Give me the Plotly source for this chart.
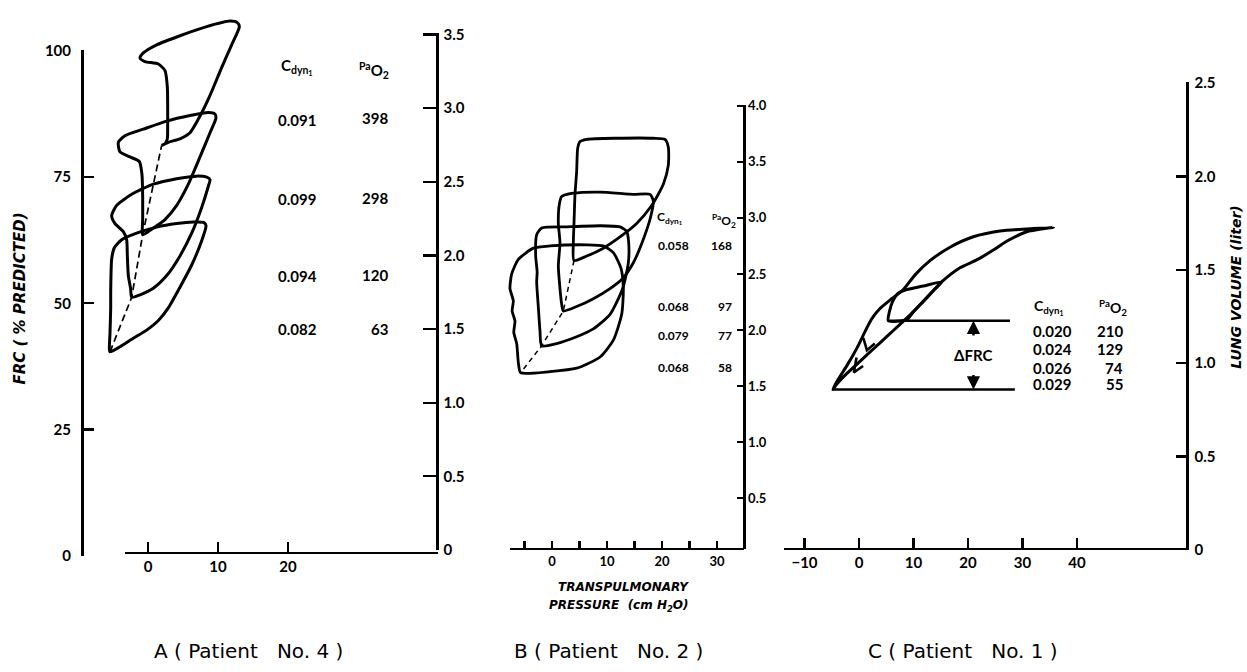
import plotly.graph_objects as go

W, H = 1247, 672

# ---------------- DATA ----------------
# Panel A (Patient No. 4): transpulmonary pressure (cm H2O) vs FRC (% predicted)
A1_X = [1.95, 2.90, 4.57, 6.0, 7.43, 8.86, 10.52, 11.95, 13.05, 12.76, 11.71, 8.38, 4.57, 1.24, -0.67, -1.14, -0.43, 1.48, 2.43, 2.76, 2.81, 2.81, 2.76, 2.43, 1.95]
A1_Y = [81.3, 81.9, 82.6, 83.8, 87.1, 91.2, 96.7, 101.2, 104.8, 105.6, 105.9, 104.8, 103.0, 101.2, 99.6, 98.6, 97.9, 97.4, 96.1, 92.9, 89.0, 85.1, 82.6, 81.6, 81.3]
A2_X = [-0.76, 0.52, 2.43, 4.10, 5.76, 7.43, 8.86, 9.71, 9.57, 8.62, 6.0, 2.67, -0.67, -3.29, -4.24, -4.0, -2.57, -1.24, -0.86, -0.76, -0.76, -0.76]
A2_Y = [63.6, 64.7, 66.6, 69.4, 73.6, 79.0, 83.8, 86.7, 87.5, 87.8, 87.2, 86.1, 84.5, 83.2, 81.9, 80.0, 79.0, 78.1, 75.5, 71.0, 66.5, 63.6]
A3_X = [-2.33, -1.14, 0.76, 2.67, 4.57, 6.24, 7.67, 8.62, 8.86, 8.38, 6.95, 4.10, 0.76, -2.33, -4.48, -5.19, -4.71, -3.52, -3.05, -2.95, -2.81, -2.48, -2.33]
A3_Y = [51.2, 51.7, 53.0, 55.5, 59.4, 63.9, 69.0, 73.2, 74.5, 75.0, 75.2, 74.7, 73.6, 71.6, 69.4, 67.4, 65.8, 64.2, 62.6, 59.4, 55.5, 52.9, 51.2]
A4_X = [-5.43, -4.0, -2.1, -0.19, 1.48, 2.9, 4.57, 6.24, 7.67, 8.29, 8.0, 6.48, 4.10, 1.24, -1.62, -3.76, -4.81, -5.19, -5.29, -5.33, -5.33, -5.43, -5.52, -5.43]
A4_Y = [40.4, 41.4, 43.1, 44.7, 46.6, 49.1, 53.2, 57.6, 62.4, 65.4, 66.0, 66.1, 65.8, 65.1, 63.9, 62.6, 61.0, 58.8, 55.5, 52.3, 49.1, 44.0, 41.0, 40.4]
A_DASH_X = [-5.43, -2.33, -0.76, 1.95]
A_DASH_Y = [40.4, 51.2, 63.6, 81.3]
A_CDYN = ["0.091", "0.099", "0.094", "0.082"]
A_PAO2 = ["398", "298", "120", "63"]
A_XTICKS = [0, 10, 20]
A_LTICKS = [0, 25, 50, 75, 100]
A_RTICKS = [0, 0.5, 1.0, 1.5, 2.0, 2.5, 3.0, 3.5]
A_RTEXT = ["0", "0.5", "1.0", "1.5", "2.0", "2.5", "3.0", "3.5"]

# Panel B (Patient No. 2): pressure vs lung volume (liter)
B1_X = [4.0, 6.30, 9.33, 12.36, 15.39, 18.12, 20.24, 21.15, 21.15, 20.55, 18.42, 11.76, 6.30, 5.09, 4.67, 4.48, 4.18, 4.0, 3.88, 4.0]
B1_Y = [2.62, 2.66, 2.73, 2.83, 2.95, 3.11, 3.30, 3.47, 3.63, 3.70, 3.71, 3.71, 3.70, 3.68, 3.62, 3.41, 3.21, 2.95, 2.78, 2.62]
B2_X = [2.06, 4.48, 7.52, 10.55, 12.85, 14.79, 16.61, 17.94, 18.42, 17.82, 14.79, 8.73, 3.88, 1.76, 1.33, 1.15, 1.45, 1.15, 1.45, 1.76, 2.06]
B2_Y = [2.17, 2.21, 2.28, 2.37, 2.46, 2.60, 2.81, 3.01, 3.15, 3.21, 3.21, 3.23, 3.22, 3.19, 3.12, 2.95, 2.78, 2.57, 2.37, 2.23, 2.17]
B3_X = [-1.88, 0.85, 4.48, 7.52, 10.55, 12.85, 13.88, 13.94, 13.58, 12.36, 8.73, 2.67, -1.88, -2.79, -2.97, -2.70, -2.79, -2.48, -2.18, -1.88]
B3_Y = [1.86, 1.88, 1.94, 2.01, 2.14, 2.37, 2.60, 2.78, 2.88, 2.92, 2.93, 2.92, 2.91, 2.85, 2.66, 2.52, 2.43, 2.20, 1.99, 1.86]
B4_X = [-5.70, -0.36, 4.48, 8.73, 11.15, 12.67, 12.97, 12.55, 11.15, 9.33, 6.30, -0.36, -3.39, -6.12, -7.33, -7.64, -7.03, -7.25, -6.73, -6.95, -6.42, -6.12, -5.70]
B4_Y = [1.62, 1.63, 1.66, 1.76, 1.91, 2.14, 2.37, 2.55, 2.69, 2.75, 2.76, 2.75, 2.73, 2.63, 2.50, 2.37, 2.26, 2.17, 2.08, 1.98, 1.88, 1.71, 1.62]
B_DASH_X = [4.0, 2.06, -1.88, -5.70]
B_DASH_Y = [2.62, 2.17, 1.86, 1.62]
B_CDYN = ["0.058", "0.068", "0.079", "0.068"]
B_PAO2 = ["168", "97", "77", "58"]
B_XTICKS = [-5, 0, 5, 10, 15, 20, 25, 30]
B_XTEXT = [" ", "0", " ", "10", " ", "20", " ", "30"]
B_RTICKS = [0.5, 1.0, 1.5, 2.0, 2.5, 3.0, 3.5, 4.0]
B_RTEXT = ["0.5", "1.0", "1.5", "2.0", "2.5", "3.0", "3.5", "4.0"]

# Panel C (Patient No. 1)
C1_X = [-4.83, -3.79, -2.14, -0.31, 1.28, 2.32, 3.85, 5.99, 8.13, 10.28, 13.03, 16.70, 20.98, 25.87, 30.76, 35.66,
        34.43, 30.76, 27.09, 24.65, 21.59, 18.53, 15.17, 12.42, 9.97, 7.52, 5.08, 2.63, 0.18, -2.26, -4.10, -4.83]
C1_Y = [0.859, 0.915, 0.991, 1.085, 1.180, 1.237, 1.293, 1.345, 1.394, 1.473, 1.549, 1.621, 1.677, 1.708, 1.719, 1.728,
        1.723, 1.704, 1.653, 1.606, 1.553, 1.511, 1.435, 1.350, 1.275, 1.208, 1.142, 1.076, 1.010, 0.944, 0.887, 0.859]
C2_X = [5.38, 5.57, 6.18, 7.22, 8.75, 11.80, 15.17, 13.64, 11.80, 9.97, 8.75, 5.38]
C2_Y = [1.227, 1.275, 1.331, 1.375, 1.394, 1.413, 1.435, 1.388, 1.331, 1.275, 1.233, 1.227]
C_UPPER_X = [5.38, 27.7]
C_UPPER_Y = [1.227, 1.227]
C_LOWER_X = [-4.83, 28.6]
C_LOWER_Y = [0.859, 0.859]
C_CHEV1_X = [0.80, 1.45, 2.90]
C_CHEV1_Y = [1.135, 1.070, 1.105]
C_CHEV2_X = [-0.45, -0.95, 0.75]
C_CHEV2_Y = [1.030, 0.950, 0.985]
C_ARROW_X = 21.0
C_ARROW_UP = [1.095, 1.227]
C_ARROW_DN = [0.991, 0.859]
C_CDYN = ["0.020", "0.024", "0.026", "0.029"]
C_PAO2 = ["210", "129", "74", "55"]
C_XTICKS = [-10, 0, 10, 20, 30, 40]
C_RTICKS = [0, 0.5, 1.0, 1.5, 2.0, 2.5]
C_RTEXT = ["0", "0.5", "1.0", "1.5", "2.0", "2.5"]

NB = "\u00a0"
CAPTIONS = ["A" + NB + "(" + NB + "Patient" + NB * 3 + "No." + NB + "4" + NB + ")",
            "B" + NB + "(" + NB + "Patient" + NB * 3 + "No." + NB + "2" + NB + ")",
            "C" + NB + "(" + NB + "Patient" + NB * 3 + "No." + NB + "1" + NB + ")"]

# ---------------- LAYOUT HELPERS ----------------
def px2x(p):
    return p / W

def px2y(p):
    return 1 - p / H

def xr(p0, p1, zero, ppu):
    return [(p0 - zero) / ppu, (p1 - zero) / ppu]

def yr(pb, pt, zero, ppu):
    return [(zero - pb) / ppu, (zero - pt) / ppu]

# pixel calibrations: (pixel of value 0, pixels per unit)
A_X0, A_XPU = 148, 7.0
A_Y0, A_YPU = 561, 5.18
A_R0, A_RPU = 555, 151.1
B_X0, B_XPU = 552, 5.5
B_Y0, B_YPU = 559.6, 115.1
C_X0, C_XPU = 859, 5.45
C_Y0, C_YPU = 555, 191.6

FONT = "Lato, 'Open Sans', sans-serif"
TFONT = "'DejaVu Sans', sans-serif"

def tf(size):
    return dict(family=FONT, size=size, color="black", weight="bold")

VIS = dict(showline=True, linecolor="black", linewidth=2.5, ticks="inside", tickcolor="black",
           tickwidth=2.2, showgrid=False, zeroline=False, anchor="free", fixedrange=True)
HID = dict(visible=False, fixedrange=True, showgrid=False, zeroline=False)

fig = go.Figure()

def loop(x, y, xa, ya, width=3.0, dash=None, shape="spline"):
    fig.add_trace(go.Scatter(x=x, y=y, xaxis=xa, yaxis=ya, mode="lines",
                             line=dict(color="black", width=width, dash=dash, shape=shape, smoothing=0.6),
                             showlegend=False, hoverinfo="skip"))

def dummy(xa, ya):
    fig.add_trace(go.Scatter(x=[None], y=[None], xaxis=xa, yaxis=ya, mode="lines",
                             showlegend=False, hoverinfo="skip"))

# Panel A
for lx, ly in [(A1_X, A1_Y), (A2_X, A2_Y), (A3_X, A3_Y), (A4_X, A4_Y)]:
    loop(lx, ly, "x", "y")
loop(A_DASH_X, A_DASH_Y, "x", "y", width=1.7, dash="7px,4px", shape="linear")
dummy("x2", "y2")
dummy("x2", "y3")

# Panel B
for lx, ly in [(B1_X, B1_Y), (B2_X, B2_Y), (B3_X, B3_Y), (B4_X, B4_Y)]:
    loop(lx, ly, "x3", "y4", width=2.8)
loop(B_DASH_X, B_DASH_Y, "x3", "y4", width=1.5, dash="5px,4px", shape="linear")
dummy("x4", "y5")

# Panel C
loop(C1_X, C1_Y, "x5", "y6")
loop(C2_X, C2_Y, "x5", "y6")
loop(C_UPPER_X, C_UPPER_Y, "x5", "y6", width=2.5, shape="linear")
loop(C_LOWER_X, C_LOWER_Y, "x5", "y6", width=2.5, shape="linear")
loop(C_CHEV1_X, C_CHEV1_Y, "x5", "y6", width=2.6, shape="linear")
loop(C_CHEV2_X, C_CHEV2_Y, "x5", "y6", width=2.6, shape="linear")
dummy("x6", "y7")

annotations = []

def ann(text, px, py, size, xanchor="center", angle=0, family=FONT, bold=True):
    annotations.append(dict(text=text, x=px2x(px), y=px2y(py), xref="paper", yref="paper",
                            xanchor=xanchor, yanchor="middle", showarrow=False, textangle=angle,
                            font=dict(family=family, size=size, color="black",
                                      weight="bold" if bold else "normal")))

CDYN_HDR = "C<sub>dyn<sub>1</sub></sub>"
PAO2_HDR = "<sup>Pa</sup>O<sub>2</sub>"

# Panel A table
ann(CDYN_HDR, 297, 60, 15)
ann(PAO2_HDR, 374, 63, 15)
for t, py in zip(A_CDYN, [114, 195, 274, 328]):
    ann(t, 297, py, 15)
for t, py in zip(A_PAO2, [112, 194, 273, 328]):
    ann(t, 390, py, 15, xanchor="right")
ann("<i>FRC ( % PREDICTED)</i>", 20, 297, 15, angle=-90, family=TFONT)

# Panel B table
ann(CDYN_HDR, 670, 214, 12)
ann(PAO2_HDR, 724, 217, 12)
for t, py in zip(B_CDYN, [243, 305, 335, 368]):
    ann(t, 673, py, 12)
for t, py in zip(B_PAO2, [243, 305, 335, 368]):
    ann(t, 734, py, 12, xanchor="right")
ann("<i>TRANSPULMONARY</i>", 623, 593, 12, family=TFONT)
ann("<i>PRESSURE  (cm H<sub>2</sub>O)</i>", 618, 612, 12, family=TFONT)

# Panel C table
ann(CDYN_HDR, 1049, 306, 14)
ann(PAO2_HDR, 1113, 306, 14)
for t, py in zip(C_CDYN, [330, 349, 368, 385]):
    ann(t, 1052, py, 15)
for t, py in zip(C_PAO2, [330, 349, 368, 385]):
    ann(t, 1125, py, 15, xanchor="right")
ann("<i>LUNG VOLUME (liter)</i>", 1236, 286, 14, angle=-90, family=TFONT)

# Delta FRC label and arrows (data coordinates of panel C)
annotations.append(dict(text="ΔFRC", x=C_ARROW_X, y=(C_ARROW_UP[0] + C_ARROW_DN[0]) / 2, xref="x5", yref="y6",
                        showarrow=False, xanchor="center", yanchor="middle",
                        font=dict(family=FONT, size=15, color="black", weight="bold")))
for seg in (C_ARROW_UP, C_ARROW_DN):
    annotations.append(dict(x=C_ARROW_X, y=seg[1], ax=C_ARROW_X, ay=seg[0], xref="x5", yref="y6",
                            axref="x5", ayref="y6", showarrow=True, arrowhead=2, arrowsize=1.1,
                            arrowwidth=2.4, arrowcolor="black", text=" "))

# captions
for t, cx in zip(CAPTIONS, [248, 608, 963]):
    ann(t, cx, 659, 20, bold=False, family=TFONT)

fig.update_layout(
    width=W, height=H, autosize=False,
    margin=dict(l=0, r=0, t=0, b=0),
    paper_bgcolor="white", plot_bgcolor="rgba(0,0,0,0)",
    showlegend=False,
    annotations=annotations,
    # Panel A
    xaxis=dict(**HID, domain=[px2x(0), px2x(438)], range=xr(0, 438, A_X0, A_XPU), anchor="y"),
    yaxis=dict(**HID, domain=[px2y(561), px2y(0)], range=yr(561, 0, A_Y0, A_YPU), anchor="x"),
    xaxis2=dict(**VIS, domain=[px2x(125), px2x(438)], range=xr(125, 438, A_X0, A_XPU),
                position=px2y(558), tickvals=A_XTICKS, ticklen=10, tickfont=tf(15)),
    yaxis2=dict(**VIS, domain=[px2y(561), px2y(42)], range=yr(561, 42, A_Y0, A_YPU),
                position=px2x(82), side="left", tickvals=A_LTICKS, ticklen=10,
                tickfont=tf(15), ticklabelstandoff=7),
    yaxis3=dict(**VIS, domain=[px2y(555), px2y(25)], range=yr(555, 25, A_R0, A_RPU),
                position=px2x(437), side="right", tickvals=A_RTICKS, ticktext=A_RTEXT,
                ticklen=13, tickfont=tf(15), ticklabelstandoff=2),
    # Panel B
    xaxis3=dict(**HID, domain=[px2x(440), px2x(744)], range=xr(440, 744, B_X0, B_XPU), anchor="y4"),
    yaxis4=dict(**HID, domain=[px2y(559.6), px2y(0)], range=yr(559.6, 0, B_Y0, B_YPU), anchor="x3"),
    xaxis4=dict(**VIS, domain=[px2x(510), px2x(744)], range=xr(510, 744, B_X0, B_XPU),
                position=px2y(554), tickvals=B_XTICKS, ticktext=B_XTEXT, ticklen=7, tickfont=tf(13)),
    yaxis5=dict(**VIS, domain=[px2y(554), px2y(98)], range=yr(554, 98, B_Y0, B_YPU),
                position=px2x(744), side="right", tickvals=B_RTICKS, ticktext=B_RTEXT,
                ticklen=6, tickfont=tf(13), ticklabelstandoff=0),
    # Panel C
    xaxis5=dict(**HID, domain=[px2x(746), px2x(1187)], range=xr(746, 1187, C_X0, C_XPU), anchor="y6"),
    yaxis6=dict(**HID, domain=[px2y(555), px2y(0)], range=yr(555, 0, C_Y0, C_YPU), anchor="x5"),
    xaxis6=dict(**VIS, domain=[px2x(784), px2x(1187)], range=xr(784, 1187, C_X0, C_XPU),
                position=px2y(554), tickvals=C_XTICKS, ticklen=10, tickfont=tf(15)),
    yaxis7=dict(**VIS, domain=[px2y(555), px2y(75)], range=yr(555, 75, C_Y0, C_YPU),
                position=px2x(1187), side="right", tickvals=C_RTICKS, ticktext=C_RTEXT,
                ticklen=10, tickfont=tf(15), ticklabelstandoff=3),
)

fig.write_html(
    "out.html",
    config={"displayModeBar": False, "staticPlot": True},
    post_script="document.body.style.margin='0px';document.body.style.overflow='hidden';",
)
